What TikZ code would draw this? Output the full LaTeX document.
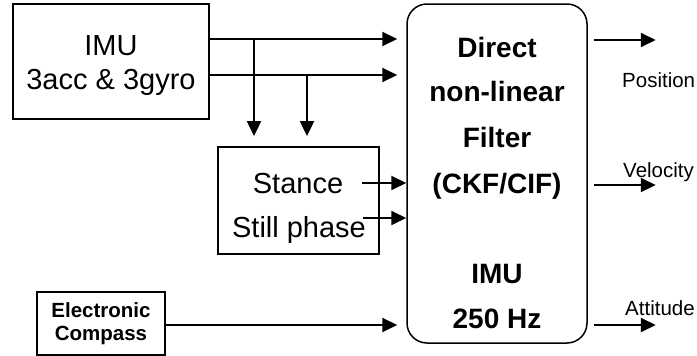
\documentclass[tikz,border=0pt]{standalone}
\usepackage{fontspec}
\setmainfont{Liberation Sans}
\usetikzlibrary{arrows.meta}
\tikzset{
  box/.style={draw, line width=1.8pt, inner sep=0pt},
  filterbox/.style={draw, line width=1.5pt, rounded corners=20pt, inner sep=0pt},
  arr/.style={line width=2pt, -{Triangle[length=15pt,width=14pt]}},
  bigtxt/.style={font=\fontsize{29}{34}\selectfont, inner sep=0pt, anchor=base},
  boldtxt/.style={font=\fontsize{28}{33}\selectfont\bfseries, inner sep=0pt, anchor=base},
  smalltxt/.style={font=\fontsize{20.5}{23}\selectfont, inner sep=0pt, anchor=base west},
  comptxt/.style={font=\fontsize{20.5}{23}\selectfont\bfseries, inner sep=0pt, anchor=base},
}
\begin{document}
\begin{tikzpicture}[x=1pt,y=-1pt]
\useasboundingbox (0,0) rectangle (697,356);
% boxes
\node[box, minimum width=196pt, minimum height=115pt] (imu) at (111,61.5) {};
\node[box, minimum width=161pt, minimum height=107pt] (stance) at (298.5,200.5) {};
\node[filterbox, minimum width=180pt, minimum height=339pt] (filter) at (497,173.5) {};
\node[box, minimum width=128pt, minimum height=63pt] (compass) at (101,323.5) {};
% texts
\node[bigtxt] (t1) at (111,55) {IMU};
\node[bigtxt] (t2) at (111,89) {3acc \& 3gyro};
\node[bigtxt] (t3) at (298,193) {Stance};
\node[bigtxt] (t4) at (299,237) {Still phase};
\node[boldtxt] (f1) at (497,57) {Direct};
\node[boldtxt] (f2) at (497,101) {non-linear};
\node[boldtxt] (f3) at (497,147) {Filter};
\node[boldtxt] (f4) at (497,193) {(CKF/CIF)};
\node[boldtxt] (f5) at (497,283) {IMU};
\node[boldtxt] (f6) at (497,328) {250 Hz};
\node[comptxt] (c1) at (101,317) {Electronic};
\node[comptxt] (c2) at (101,340) {Compass};
\node[smalltxt] (o1) at (622,87) {Position};
\node[smalltxt] (o2) at (623,177) {Velocity};
\node[smalltxt] (o3) at (625,315) {Attitude};
% coordinates
\coordinate (y1) at (0,39);
\coordinate (y2) at (0,75);
\coordinate (ys) at (362,183);
\coordinate (yp) at (363,218);
\coordinate (yc) at (0,325);
\coordinate (b1) at (254,39);
\coordinate (b2) at (307,75);
\coordinate (q1) at (0,40);
\coordinate (q2) at (0,185);
\coordinate (q3) at (0,325);
% input arrows
\draw[arr] (imu.east |- y1) -- ([xshift=-9pt]filter.west |- y1);
\draw[arr] (imu.east |- y2) -- ([xshift=-9pt]filter.west |- y2);
\draw[arr] (b1) -- ([yshift=10pt]b1 |- stance.north);
\draw[arr] (b2) -- ([yshift=10pt]b2 |- stance.north);
\draw[arr] (ys) -- (filter.west |- ys);
\draw[arr] (yp) -- (filter.west |- yp);
\draw[arr] (compass.east |- yc) -- ([xshift=-9pt]filter.west |- yc);
% output arrows
\draw[arr] ([xshift=6pt]filter.east |- q1) -- ([xshift=68pt]filter.east |- q1);
\draw[arr] ([xshift=6pt]filter.east |- q2) -- ([xshift=68pt]filter.east |- q2);
\draw[arr] ([xshift=6pt]filter.east |- q3) -- ([xshift=68pt]filter.east |- q3);
\end{tikzpicture}
\end{document}
